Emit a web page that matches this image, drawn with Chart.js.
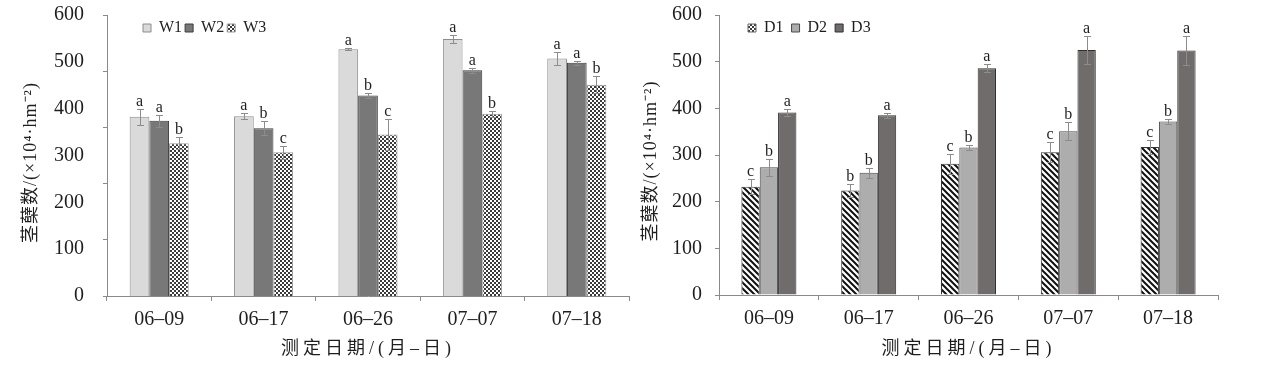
<!DOCTYPE html>
<html><head><meta charset="utf-8">
<script src="https://cdn.jsdelivr.net/npm/chart.js@4/dist/chart.umd.min.js"></script>
<style>
html,body{margin:0;padding:0;background:#fff;}
#c1{position:absolute;left:0;top:0;}
#c2{position:absolute;left:634px;top:0;}
</style></head><body>
<canvas id="c1" width="634" height="367"></canvas>
<canvas id="c2" width="635" height="367"></canvas>
<script>
// ---- data ----
const dates = ['06–09', '06–17', '06–26', '07–07', '07–18'];
const leftTicks = [0, 100, 200, 300, 400, 500, 600];
const rightTicks = [0, 100, 200, 300, 400, 500, 600];

const w1 = [383, 384, 527, 549, 507];
const w1Err = [17, 6, 2, 8, 13];
const w1Sig = ['a', 'a', 'a', 'a', 'a'];
const w2 = [374, 358, 428, 482, 498];
const w2Err = [13, 15, 6, 5, 4];
const w2Sig = ['a', 'b', 'b', 'a', 'a'];
const w3 = [326, 307, 345, 389, 451];
const w3Err = [13, 14, 34, 7, 18];
const w3Sig = ['b', 'c', 'c', 'b', 'b'];

const d1 = [232, 224, 281, 306, 317];
const d1Err = [16, 13, 21, 21, 15];
const d1Sig = ['c', 'b', 'c', 'c', 'c'];
const d2 = [274, 262, 316, 351, 372];
const d2Err = [18, 11, 5, 19, 6];
const d2Sig = ['b', 'b', 'b', 'b', 'b'];
const d3 = [391, 385, 486, 525, 524];
const d3Err = [8, 5, 8, 30, 32];
const d3Sig = ['a', 'a', 'a', 'a', 'a'];

const xTitle = '测定日期/(月–日)';
const yTitle = '茎蘖数/(×10⁴·hm⁻²)';

// ---- styles ----
const SERIF = "'Liberation Serif', 'Noto Sans CJK SC', serif";
const TXT = '#1e1e1e';
const AXIS = '#8a8a8a';

function checker(ctx) {
  const c = document.createElement('canvas'); c.width = 4; c.height = 4;
  const g = c.getContext('2d');
  g.fillStyle = '#ffffff'; g.fillRect(0, 0, 4, 4);
  g.fillStyle = '#3a3a3a'; g.fillRect(0, 0, 2, 2); g.fillRect(2, 2, 2, 2);
  return ctx.createPattern(c, 'repeat');
}
function hatch(ctx) {
  const s = 6;
  const c = document.createElement('canvas'); c.width = s; c.height = s;
  const g = c.getContext('2d');
  g.fillStyle = '#ffffff'; g.fillRect(0, 0, s, s);
  g.strokeStyle = '#111'; g.lineWidth = 2;
  g.beginPath();
  for (const x0 of [-s, 0, s]) { g.moveTo(x0 - 1, -1); g.lineTo(x0 + s + 1, s + 1); }
  g.stroke();
  return ctx.createPattern(c, 'repeat');
}

const errPlugin = {
  id: 'errbars',
  afterDatasetsDraw(chart) {
    const ctx = chart.ctx; const y = chart.scales.y;
    chart.data.datasets.forEach((ds, i) => {
      const meta = chart.getDatasetMeta(i);
      meta.data.forEach((bar, j) => {
        const v = ds.data[j], e = ds.errors[j];
        const yt = Math.round(y.getPixelForValue(v + e)) + 0.5;
        const yb = Math.round(y.getPixelForValue(v - e)) + 0.5;
        const x = Math.round(bar.x) + 0.5;
        ctx.save();
        ctx.strokeStyle = '#8c8c8c'; ctx.lineWidth = 1;
        ctx.beginPath();
        ctx.moveTo(x, yt); ctx.lineTo(x, yb);
        ctx.moveTo(x - 3.5, yt); ctx.lineTo(x + 3.5, yt);
        ctx.moveTo(x - 3.5, yb); ctx.lineTo(x + 3.5, yb);
        ctx.stroke();
        ctx.fillStyle = TXT; ctx.font = '16px ' + SERIF;
        ctx.textAlign = 'center'; ctx.textBaseline = 'alphabetic';
        ctx.fillText(ds.sig[j], bar.x, yt - 4);
        ctx.restore();
      });
    });
  }
};

const legendPlace = {
  id: 'legendPlace',
  afterInit(chart) {
    const lg = chart.legend; if (!lg) return;
    const f = lg.fit;
    lg.fit = function () { f.call(this); this.height = 0; };
  },
  afterLayout(chart, args, opts) {
    const lg = chart.legend; if (!lg) return;
    lg.left = opts.x; lg.right = opts.x + 400;
    lg.top = opts.y; lg.bottom = opts.y + 30;
    Object.values(chart.scales).forEach(s => {
      if (s._spaced || !s.options.title || !s.options.title.display) return;
      s._spaced = true;
      const sp = s.options.letterSp || '0px';
      const dy = s.options.titleShift || 0;
      const orig = s.drawTitle;
      s.drawTitle = function () {
        const c = this.ctx; c.save(); c.letterSpacing = sp; c.translate(0, dy);
        orig.call(this); c.restore();
      };
    });
  }
};

function noPad(s) { s.paddingTop = 0; s.paddingBottom = 0; s.paddingLeft = 0; s.paddingRight = 0; }

function xAxis(h) {
  return {
    type: 'category',
    grid: { display: true, drawOnChartArea: false, tickLength: 5, color: AXIS, offset: true },
    border: { display: true, color: AXIS, width: 1 },
    ticks: { color: TXT, font: { family: SERIF, size: 20 }, padding: 7, maxRotation: 0 },
    title: { display: true, text: xTitle, color: TXT, font: { family: SERIF, size: 18 }, padding: { top: 0, bottom: 7 } },
    letterSp: '4px',
    afterFit(s) { s.height = h; noPad(s); }
  };
}

// ---- left chart ----
const ctx1 = document.getElementById('c1').getContext('2d');
new Chart(ctx1, {
  type: 'bar',
  data: {
    labels: dates,
    datasets: [
      { label: 'W1', data: w1, errors: w1Err, sig: w1Sig, backgroundColor: '#dadada', borderColor: '#8c8c8c', borderWidth: 1 },
      { label: 'W2', data: w2, errors: w2Err, sig: w2Sig, backgroundColor: '#787878', borderColor: '#3c3c3c', borderWidth: 1 },
      { label: 'W3', data: w3, errors: w3Err, sig: w3Sig, backgroundColor: checker(ctx1), borderColor: '#9a9a9a', borderWidth: 1 }
    ]
  },
  options: {
    responsive: false, animation: false,
    layout: { padding: { top: 15, left: 0, right: 5, bottom: 0 } },
    datasets: { bar: { categoryPercentage: 0.566, barPercentage: 1.0 } },
    plugins: {
      legend: { display: true, position: 'top', align: 'start',
        labels: { boxWidth: 8, boxHeight: 8, padding: 3, color: TXT, font: { family: SERIF, size: 16 } } },
      legendPlace: { x: 140, y: 17 },
      tooltip: { enabled: false }
    },
    scales: {
      x: xAxis(71),
      y: {
        position: 'left', weight: 1, min: 0, max: 600,
        afterBuildTicks(s) { s.ticks = leftTicks.map(v => ({ value: v })); },
        grid: { display: false }, border: { display: false },
        ticks: { color: TXT, font: { family: SERIF, size: 20 }, padding: 11 },
        title: { display: true, text: yTitle, color: TXT, font: { family: SERIF, size: 18 }, padding: { top: 20, bottom: 0 } },
        letterSp: '1px', titleShift: 7,
        afterFit(s) { s.width = 103; noPad(s); }
      },
      y2: {
        position: 'left', weight: 0, min: 0, max: 500,
        ticks: { display: false, stepSize: 100 },
        grid: { display: true, drawOnChartArea: false, tickLength: 4, color: AXIS },
        border: { display: true, color: AXIS, width: 1 },
        afterFit(s) { s.width = 4; noPad(s); }
      }
    }
  },
  plugins: [errPlugin, legendPlace]
});

// ---- right chart ----
const ctx2 = document.getElementById('c2').getContext('2d');
const chk2 = checker(ctx2);
new Chart(ctx2, {
  type: 'bar',
  data: {
    labels: dates,
    datasets: [
      { label: 'D1', data: d1, errors: d1Err, sig: d1Sig, backgroundColor: hatch(ctx2), borderColor: '#333333', borderWidth: 1 },
      { label: 'D2', data: d2, errors: d2Err, sig: d2Sig, backgroundColor: '#adadad', borderColor: '#4a4a4a', borderWidth: 1 },
      { label: 'D3', data: d3, errors: d3Err, sig: d3Sig, backgroundColor: '#716c6c', borderColor: '#2f2f2f', borderWidth: 1 }
    ]
  },
  options: {
    responsive: false, animation: false,
    layout: { padding: { top: 15, left: 0, right: 51, bottom: 0 } },
    datasets: { bar: { categoryPercentage: 0.551, barPercentage: 1.0 } },
    plugins: {
      legend: { display: true, position: 'top', align: 'start',
        labels: { boxWidth: 8, boxHeight: 8, padding: 8, color: TXT, font: { family: SERIF, size: 16 },
          generateLabels(chart) {
            const items = Chart.defaults.plugins.legend.labels.generateLabels(chart);
            items[0].fillStyle = chk2; items[0].strokeStyle = '#666';
            return items;
          } } },
      legendPlace: { x: 106, y: 12 },
      tooltip: { enabled: false }
    },
    scales: {
      x: xAxis(72),
      y: {
        position: 'left', min: 0, max: 600,
        afterBuildTicks(s) { s.ticks = rightTicks.map(v => ({ value: v })); },
        grid: { display: true, drawOnChartArea: false, tickLength: 4, color: AXIS },
        border: { display: true, color: AXIS, width: 1 },
        ticks: { color: TXT, font: { family: SERIF, size: 20 }, padding: 13 },
        title: { display: true, text: yTitle, color: TXT, font: { family: SERIF, size: 18 }, padding: { top: 6, bottom: 0 } },
        letterSp: '1px', titleShift: 6,
        afterFit(s) { s.width = 85; noPad(s); }
      }
    }
  },
  plugins: [errPlugin, legendPlace]
});
</script>
</body></html>
